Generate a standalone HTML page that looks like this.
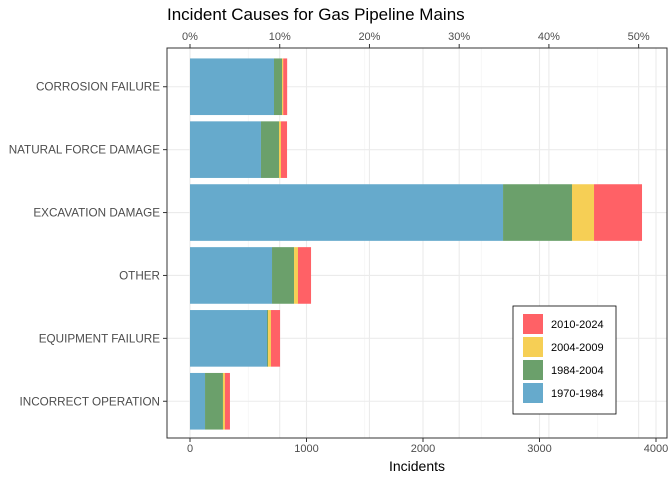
<!DOCTYPE html>
<html><head><meta charset="utf-8"><style>
body{margin:0;background:#fff;font-family:"Liberation Sans",sans-serif;}
</style></head><body>
<svg id="c" width="672" height="480" xmlns="http://www.w3.org/2000/svg"></svg>
<script>
const categories=["CORROSION FAILURE","NATURAL FORCE DAMAGE","EXCAVATION DAMAGE","OTHER","EQUIPMENT FAILURE","INCORRECT OPERATION"];
const series=["1970-1984","1984-2004","2004-2009","2010-2024"];
const s1970=[721,609,2687,704,661,129];
const s1984=[69,155,592,189,9,154];
const s2004=[10,17,189,34,25,17];
const s2010=[34,52,412,112,78,43];
const xTicks=[0,1000,2000,3000,4000];
const pctTicks=[0,10,20,30,40,50];
const colors=["#66AACC","#6BA06B","#F6CF55","#FF6166"];
const vals=[s1970,s1984,s2004,s2010];
const NS="http://www.w3.org/2000/svg";
const svg=document.getElementById('c');
function mk(t,a,p){const e=document.createElementNS(NS,t);for(const k in a)e.setAttribute(k,a[k]);(p||svg).appendChild(e);return e;}
const L=167,R=667,T=48,B=438;
const x=v=>190+v*(656-190)/4000;
let total=0;vals.forEach(a=>a.forEach(v=>total+=v));
const xp=p=>x(p/100*total);
const unit=(B-T)/(categories.length-1+1.2);
const yc=i=>T+unit*(i+0.6)+1;
const bh=unit*0.9;
for(let i=0;i<xTicks.length-1;i++){const m=(xTicks[i]+xTicks[i+1])/2;const g=mk('line',{x1:x(m),x2:x(m),y1:T,y2:B,stroke:'#f2f2f2','stroke-width':0.6});}
xTicks.forEach(t=>{const g=mk('line',{x1:x(t),x2:x(t),y1:T,y2:B,stroke:'#ebebeb','stroke-width':1.1});});
pctTicks.forEach(t=>{const g=mk('line',{x1:xp(t),x2:xp(t),y1:T,y2:B,stroke:'#ebebeb','stroke-width':1.1});});
categories.forEach((c,i)=>{const g=mk('line',{x1:L,x2:R,y1:yc(i),y2:yc(i),stroke:'#ebebeb','stroke-width':1.1});});
categories.forEach((c,i)=>{let acc=0;vals.forEach((a,j)=>{const r=mk('rect',{x:x(acc),y:yc(i)-bh/2,width:x(acc+a[i])-x(acc),height:bh,fill:colors[j]});acc+=a[i];});});
const border=mk('rect',{x:L,y:T,width:R-L,height:B-T,fill:'none',stroke:'#333','stroke-width':1});

xTicks.forEach(t=>{mk('line',{x1:x(t),x2:x(t),y1:B,y2:B+4,stroke:'#333'});const e=mk('text',{x:x(t),y:B+14,'text-anchor':'middle','font-size':11,fill:'#4d4d4d'});e.textContent=t;});
pctTicks.forEach(t=>{mk('line',{x1:xp(t),x2:xp(t),y1:T,y2:T-4,stroke:'#333'});const e=mk('text',{x:xp(t),y:T-8,'text-anchor':'middle','font-size':11,fill:'#4d4d4d'});e.textContent=t+'%';});
categories.forEach((c,i)=>{mk('line',{x1:L-4,x2:L,y1:yc(i),y2:yc(i),stroke:'#333'});const e=mk('text',{x:L-7,y:yc(i)+4,'text-anchor':'end','font-size':11.7,fill:'#4d4d4d'});e.textContent=c;});
const xt=mk('text',{x:(L+R)/2,y:471,'text-anchor':'middle','font-size':14,fill:'#000'});xt.textContent='Incidents';
const tt=mk('text',{x:167,y:20,'font-size':17,fill:'#000'});tt.textContent='Incident Causes for Gas Pipeline Mains';
const lg=mk('g',{});
mk('rect',{x:513,y:306,width:103,height:108,fill:'#fff',stroke:'#000','stroke-width':0.8},lg);
for(let k=0;k<4;k++){const j=3-k;const yy=314+k*23;const r=mk('rect',{x:523,y:yy,width:20,height:20,fill:colors[j]},lg);const e=mk('text',{x:551,y:yy+14,'font-size':11,fill:'#000'},lg);e.textContent=series[j];}
</script>
</body></html>
